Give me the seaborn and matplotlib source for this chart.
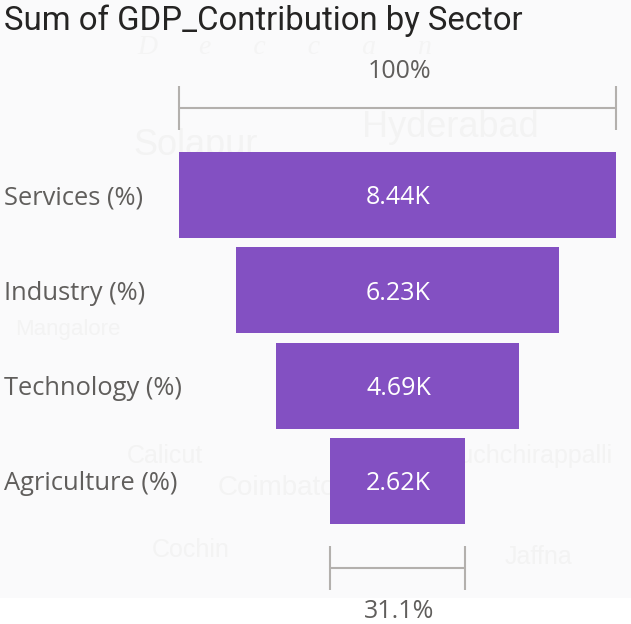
import numpy as np
import pandas as pd
import seaborn as sns
import matplotlib.pyplot as plt
from matplotlib.patches import Rectangle

sectors = ["Services (%)", "Industry (%)", "Technology (%)", "Agriculture (%)"]
gdp_sum = [8437, 6235, 4692, 2624]
value_labels = ["8.44K", "6.23K", "4.69K", "2.62K"]
top_pct = "100%"
bottom_pct = "31.1%"

# faint place names from the map behind the chart
map_names = ["Solapur", "Hyderabad", "Mangalore", "Calicut", "Coimbatore", "Cochin", "Tiruchchirappalli", "Jaffna"]
map_x = [133, 362, 15, 127, 218, 152, 432, 505]
map_y = [145, 128, 330, 456, 488, 550, 456, 557]
map_size = [26, 26, 16, 18, 20, 18, 18, 18]

W, H = 631, 624
PURPLE = "#8350c2"
GREY = "#b3b0ad"
TEXT = "#605e5c"

sns.set_theme(style="white")
plt.rcParams["font.family"] = ["Open Sans", "DejaVu Sans"]

df = pd.DataFrame({"sector": sectors, "gdp": gdp_sum})

fig = plt.figure(figsize=(W / 100, H / 100), dpi=100, facecolor="white")

# map background stops short of the bottom edge
fig.add_artist(Rectangle((0, 1 - 598 / H), 1, 598 / H, transform=fig.transFigure,
                         facecolor="#fafafb", edgecolor="none", zorder=-5))
for name, x, y, s in zip(map_names, map_x, map_y, map_size):
    fig.text(x / W, 1 - y / H, name, fontsize=s, color="#f3f3f3", va="center",
             family=["Liberation Sans"], zorder=-4)
fig.text(137 / W, 1 - 48 / H, "D      e      c      c      a      n", fontsize=20, color="#f4f4f4", va="center",
         style="italic", family=["Liberation Serif"], zorder=-4)

# axes run exactly over the widest bar, the rest of the layout hangs outside
ax = fig.add_axes([179 / W, 0, (616 - 179) / W, 1])
ax.patch.set_alpha(0)

gdp = np.array(gdp_sum)
sns.barplot(data=df, x="gdp", y="sector", color=PURPLE, saturation=1, width=0.902, linewidth=0, ax=ax)

# centre the bars to make the funnel
for bar, v in zip(ax.patches, gdp):
    bar.set_x(-v / 2)

row = 95.33
ax.set_xlim(-gdp.max() / 2, gdp.max() / 2)
ax.set_ylim((H - 195) / row, -195 / row)

for i, lab in enumerate(value_labels):
    ax.text(20, i + 0.03, lab, color="white", fontsize=18, ha="center", va="center")

# brackets above and below
top_y = (107.5 - 195) / row
bot_y = (568 - 195) / row
cap = 22 / row
ax.hlines(top_y, -gdp.max() / 2, gdp.max() / 2, color=GREY, lw=1.5, clip_on=False)
ax.vlines([-gdp.max() / 2, gdp.max() / 2], top_y - cap, top_y + cap, color=GREY, lw=1.5, clip_on=False)
ax.hlines(bot_y, -gdp.min() / 2, gdp.min() / 2, color=GREY, lw=1.5, clip_on=False)
ax.vlines([-gdp.min() / 2, gdp.min() / 2], bot_y - cap, bot_y + cap, color=GREY, lw=1.5, clip_on=False)
ax.text(40, (72 - 195) / row, top_pct, color=TEXT, fontsize=18, ha="center", va="center")
ax.text(40, (611 - 195) / row, bottom_pct, color=TEXT, fontsize=18, ha="center", va="center")

ax.set_xlabel("")
ax.set_ylabel("")
ax.set_xticks([])
ax.tick_params(axis="y", length=0, pad=175 * 0.72)
for t in ax.get_yticklabels():
    t.set_ha("left")
    t.set_color(TEXT)
    t.set_fontsize(18.4)
sns.despine(ax=ax, left=True, bottom=True)

fig.text(4 / W, 1 - 21 / H, "Sum of GDP_Contribution by Sector", fontsize=23.7, color="#252423",
         va="center", ha="left", family=["Roboto"])

fig.savefig("out.png", dpi=100)
